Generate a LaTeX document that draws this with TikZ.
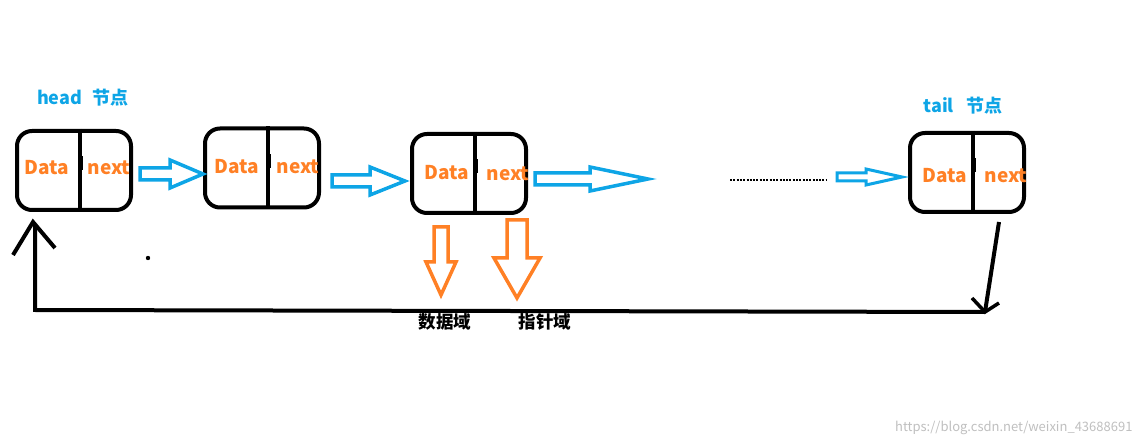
\documentclass[tikz,border=0pt]{standalone}
\usepackage{fontspec}
\setmainfont{Noto Sans CJK SC}
\usetikzlibrary{arrows.meta}
\definecolor{cblue}{HTML}{0EA5E6}
\definecolor{corange}{HTML}{FF8025}
\begin{document}
\begin{tikzpicture}[x=1pt,y=-1pt,
  box/.style={draw,line width=4pt,rounded corners=15pt,minimum width=114pt,minimum height=79pt,inner sep=0pt},
  lab/.style={font=\fontsize{19}{19}\selectfont\bfseries,text=corange,inner sep=0pt},
  ttl/.style={font=\fontsize{18}{18}\selectfont\bfseries,text=cblue,inner sep=0pt},
  cn/.style={font=\fontsize{17.5}{17.5}\selectfont\bfseries,inner sep=0pt},
  harrow/.style={draw=cblue,line width=3.5pt,line join=miter},
  varrow/.style={draw=corange,line width=3.5pt,line join=miter}]
\useasboundingbox (0,0) rectangle (1141,446);
% boxes
\node[box] (n1) at (74,170.5) {};
\node[box] (n2) at (262,168) {};
\node[box] (n3) at (469,173.5) {};
\node[box] (n4) at (967,172.5) {};
\foreach \n/\x in {n1/80,n2/268,n3/475,n4/973}{
  \draw[line width=4pt] (\x,0|-\n.north) -- (\x,0|-\n.south);
  \fill (\x-2.5,0|-\n.center) rectangle ++(5,-14);
}
\node[lab] at (47,168) {Data};
\node[lab] at (109,168) {next};
\node[lab] at (237,167) {Data};
\node[lab] at (298,167) {next};
\node[lab] at (447,173) {Data};
\node[lab] at (508,174) {next};
\node[lab] at (945,176) {Data};
\node[lab] at (1006,176) {next};
\node[ttl] (h) at (83,98) {head\hspace{0.6em}节点};
\node[ttl] (t) at (963,106) {tail\hspace{0.7em}节点};
% blue hollow arrows
\draw[harrow] (140,168)--(170,168)--(170,160)--(203,174)--(170,188)--(170,180)--(140,180)--cycle;
\draw[harrow] (332,175)--(370,175)--(370,167)--(405,181)--(370,195)--(370,187)--(332,187)--cycle;
\draw[harrow] (535,173)--(590,173)--(590,167)--(648,179)--(590,191)--(590,185)--(535,185)--cycle;
\draw[harrow,line width=3pt] (837,173)--(866,173)--(866,169)--(902,177)--(866,185)--(866,181)--(837,181)--cycle;
\draw[line width=2pt,dash pattern=on 2pt off 1.3pt] (730,180) -- (827,180);
% orange down arrows
\draw[varrow] (434,227)--(448,227)--(448,262)--(456,262)--(441,295)--(426,262)--(434,262)--cycle;
\draw[varrow] (507,220)--(527,220)--(527,258)--(540,258)--(517,298)--(494,258)--(507,258)--cycle;
\node[cn] (d) at (445,322) {数据域};
\node[cn] (p) at (545,322) {指针域};
% return line
\coordinate (a) at (999,222);
\coordinate (b) at (985,312);
\draw[line width=4pt] (a) -- (b);
\draw[line width=3.5pt] (972,298) -- (b) -- (999,303);
\draw[line width=4pt] (b) -- (35,310) -- (35,224);
\draw[line width=4pt] (13,255) -- (33,222) -- (55,248);
\fill (148,258) circle (2.2);
\node[font=\fontsize{13}{13}\selectfont,text=black!25,anchor=east] (w) at (1136,428) {https://blog.csdn.net/weixin\_43688691};
\end{tikzpicture}
\end{document}
